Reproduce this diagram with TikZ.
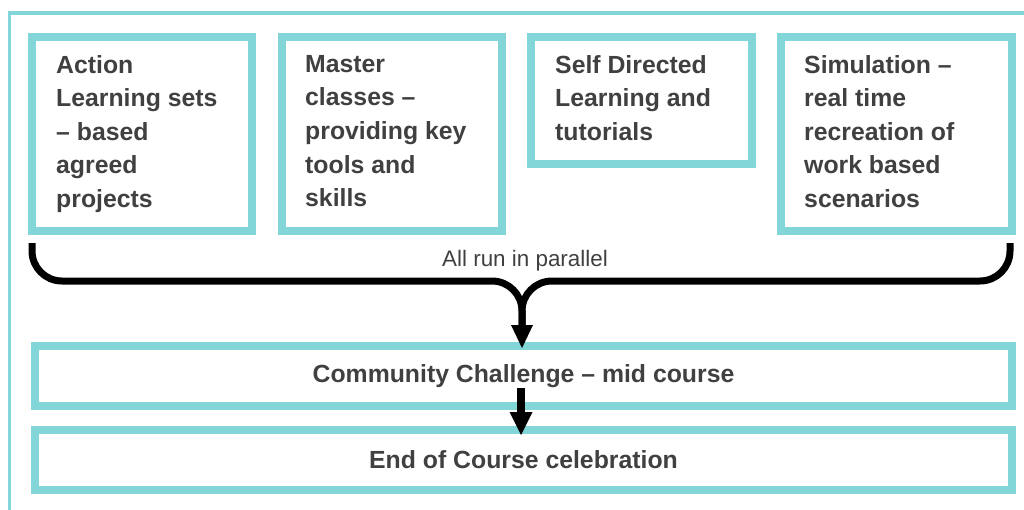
\documentclass[tikz,border=0pt]{standalone}
\usepackage{fontspec}
\setmainfont{Liberation Sans}
\usetikzlibrary{arrows.meta}
\definecolor{cyanline}{RGB}{130,214,216}
\definecolor{txt}{RGB}{64,64,64}
\begin{document}
\begin{tikzpicture}[x=1pt,y=-1pt,
  frame/.style={draw=cyanline,line width=3.5pt},
  box/.style={draw=cyanline,line width=8pt,inner sep=0pt,outer sep=0pt,
    font=\fontsize{24.8}{33.6}\selectfont\bfseries,text=txt},
  boxtext/.style={anchor=north west,inner sep=0pt,align=left,
    font=\fontsize{24.8}{33.6}\selectfont\bfseries,text=txt},
  brace/.style={draw=black,line width=7pt,rounded corners=30pt},
  arrowtip/.style={-{Triangle[length=23pt,width=22pt,line width=0pt]}}
]
\useasboundingbox (0,0) rectangle (1024,509);
\draw[frame] (9.5,520) -- (9.5,13) -- (1030,13);

\node[box,minimum width=220pt,minimum height=194pt] (b1) at (142,134) {};
\node[box,minimum width=220pt,minimum height=194pt] (b2) at (392,134) {};
\node[box,minimum width=221pt,minimum height=127pt] (b3) at (641.5,100.5) {};
\node[box,minimum width=231pt,minimum height=194pt] (b4) at (896.5,134) {};
\node[box,minimum width=977pt,minimum height=60pt] (b5) at (523.5,376) {Community Challenge – mid course};
\node[box,minimum width=977pt,minimum height=60pt] (b6) at (523.5,460) {End of Course celebration};

\node[boxtext] (t1) at ([xshift=24pt,yshift=-18pt]b1.north west) {Action\\Learning sets\\– based\\agreed\\projects};
\node[boxtext] (t2) at ([xshift=23pt,yshift=-18pt]b2.north west) {Master\\classes –\\providing key\\tools and\\skills};
\node[boxtext] (t3) at ([xshift=24pt,yshift=-18pt]b3.north west) {Self Directed\\Learning and\\tutorials};
\node[boxtext] (t4) at ([xshift=23pt,yshift=-18pt]b4.north west) {Simulation –\\real time\\recreation of\\work based\\scenarios};

\coordinate (bl) at ([yshift=-12pt]b1.south west);
\coordinate (br) at ([xshift=-2pt,yshift=-12pt]b4.south east);
\coordinate (mid) at (522,281);
\draw[brace,arrowtip] (bl) |- (mid) -- ([yshift=-2pt]b5.north -| mid);
\draw[brace] (br) |- (mid) -- ([yshift=20pt]b5.north -| mid);

\node[font=\fontsize{22.4}{26}\selectfont,text=txt,anchor=base] (lbl) at (525,266) {All run in parallel};

\coordinate (ax) at (521,0);
\draw[line width=7.5pt,-{Triangle[length=23pt,width=23pt,line width=0pt]}]
  ([yshift=18pt]b5.south -| ax) -- ([yshift=-5pt]b6.north -| ax);
\end{tikzpicture}
\end{document}
